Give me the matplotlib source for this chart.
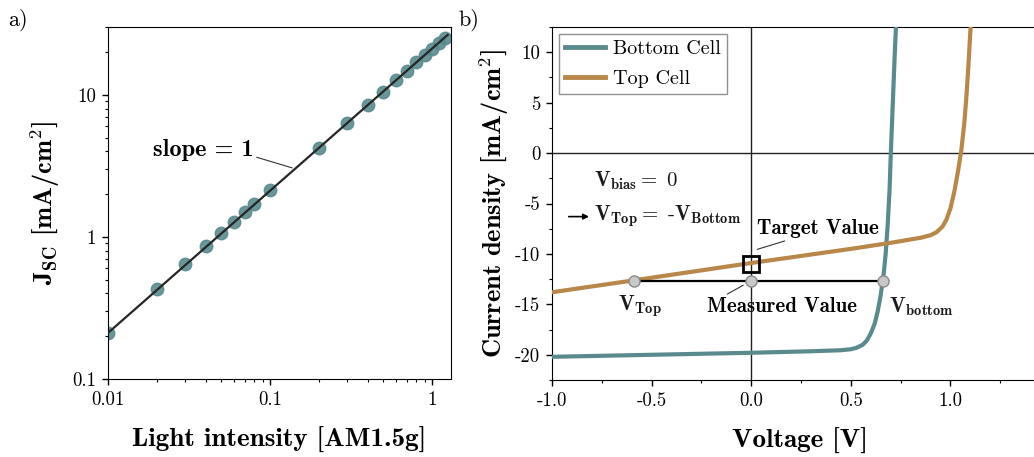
import numpy as np
import matplotlib
matplotlib.use("Agg")
import matplotlib.pyplot as plt
from matplotlib.ticker import FixedLocator, FuncFormatter, MultipleLocator, LogLocator, NullFormatter

plt.rcParams['font.family'] = ['cmr10', 'DejaVu Serif']
plt.rcParams['mathtext.fontset'] = 'cm'
plt.rcParams['axes.unicode_minus'] = False
plt.rcParams['axes.formatter.use_mathtext'] = True

# panel a: short-circuit current vs light intensity
intensity = [0.01, 0.02, 0.03, 0.04, 0.05, 0.06, 0.07, 0.08, 0.1,
             0.2, 0.3, 0.4, 0.5, 0.6, 0.7, 0.8, 0.9, 1.0, 1.1, 1.2]
jsc = [0.21, 0.43, 0.64, 0.86, 1.06, 1.27, 1.49, 1.70, 2.13,
       4.2, 6.3, 8.5, 10.5, 12.7, 14.8, 16.9, 19.0, 21.1, 23.2, 25.3]
fit_x = [0.01, 1.25]
fit_y = [0.211, 26.4]

# panel b: J-V curves of the subcells
v_bottom = [-1.0, -0.5, 0.0, 0.3, 0.45, 0.50, 0.53, 0.56, 0.58, 0.60, 0.62, 0.635,
            0.65, 0.665, 0.675, 0.685, 0.695, 0.70, 0.71, 0.72, 0.73]
j_bottom = [-20.2, -20.0, -19.8, -19.65, -19.55, -19.45, -19.3, -19.0, -18.6, -17.9, -16.9, -15.7,
            -14.1, -12.0, -10.0, -7.2, -3.5, -0.5, 4.5, 9.5, 14.0]
v_top = [-1.0, -0.6, 0.0, 0.5, 0.7, 0.85, 0.90, 0.93, 0.96, 0.98, 1.00, 1.02,
         1.04, 1.055, 1.07, 1.08, 1.09, 1.10, 1.11]
j_top = [-13.8, -12.65, -10.9, -9.5, -8.9, -8.4, -8.15, -7.85, -7.3, -6.6, -5.5, -3.8,
         -1.6, 0.3, 3.0, 5.5, 8.5, 12.0, 15.0]
measured_v = [-0.59, 0.0, 0.66]
measured_j = -12.7
target_v, target_j = 0.0, -10.95

teal = '#5a8a8e'
brown = '#b8874a'

fig = plt.figure(figsize=(10.34, 4.57), dpi=100)
W, H = 1034, 457

def px_axes(l, t, r, b):
    return fig.add_axes([l / W, 1 - b / H, (r - l) / W, (b - t) / H])

# ---- panel a ----
ax1 = px_axes(108, 27, 451, 379)
ax1.plot(intensity, jsc, 'o', ms=9, color=teal, alpha=0.9, mec=teal, zorder=2)
ax1.plot(fit_x, fit_y, '-', color='#262626', lw=1.6, zorder=3)
ax1.set_xscale('log')
ax1.set_yscale('log')
ax1.set_xlim(0.01, 1.31)
ax1.set_ylim(0.1, 30)
ax1.xaxis.set_major_locator(FixedLocator([0.01, 0.1, 1]))
ax1.yaxis.set_major_locator(FixedLocator([0.1, 1, 10]))
ax1.xaxis.set_minor_locator(LogLocator(subs=np.arange(2, 10)))
ax1.yaxis.set_minor_locator(LogLocator(subs=np.arange(2, 10)))
ax1.xaxis.set_minor_formatter(NullFormatter())
ax1.yaxis.set_minor_formatter(NullFormatter())
fmt = FuncFormatter(lambda v, p: '%g' % v)
ax1.xaxis.set_major_formatter(fmt)
ax1.yaxis.set_major_formatter(fmt)
ax1.tick_params(which='major', direction='out', length=4, width=1, labelsize=13.5, pad=4.5)
ax1.tick_params(which='minor', direction='out', length=2.3, width=0.8)
ax1.set_xlabel('Light intensity [AM1.5g]', family='cmb10', fontsize=19.5, labelpad=13)
ax1.set_ylabel(r'$\mathbf{J_{SC}}$ [mA/cm$^\mathbf{2}$]', family='cmb10', fontsize=19, labelpad=7)
ax1.annotate('slope = 1', xy=(0.137, 3.06), xytext=(0.019, 4.1),
             family='cmb10', fontsize=17.5, va='center',
             arrowprops=dict(arrowstyle='-', color='#333333', lw=0.8,
                             shrinkA=0, shrinkB=0, relpos=(1.0, 0.2)))

# ---- panel b ----
ax2 = px_axes(552, 27, 1048, 380)
ax2.axhline(0, color='#222222', lw=1, zorder=1)
ax2.axvline(0, color='#222222', lw=1, zorder=1)
ax2.plot(v_bottom, j_bottom, '-', color=teal, lw=3, label='Bottom Cell', zorder=3)
ax2.plot(v_top, j_top, '-', color=brown, lw=3, label='Top Cell', zorder=3)
ax2.plot([measured_v[0], measured_v[-1]], [measured_j, measured_j], '-', color='black', lw=1.6, zorder=4)
ax2.plot(measured_v, [measured_j] * len(measured_v), 'o', ms=8, mfc='#c8c8c8', mec='#8a8a8a', mew=1, zorder=5)
ax2.plot([target_v], [target_j], 's', ms=11, mfc='none', mec='black', mew=2, zorder=5)
ax2.set_xlim(-1.0, 1.49)
ax2.set_ylim(-22.5, 12.5)
ax2.xaxis.set_major_locator(MultipleLocator(0.5))
ax2.xaxis.set_minor_locator(MultipleLocator(0.25))
ax2.yaxis.set_major_locator(MultipleLocator(5))
ax2.yaxis.set_minor_locator(MultipleLocator(2.5))
ax2.xaxis.set_major_formatter(FuncFormatter(lambda v, p: '%.1f' % v))
ax2.yaxis.set_major_formatter(FuncFormatter(lambda v, p: '%d' % round(v)))
ax2.tick_params(which='major', direction='out', length=4, width=1, labelsize=13.5, pad=4.5)
ax2.tick_params(which='minor', direction='out', length=2.3, width=0.8)
ax2.set_xlabel('Voltage [V]', family='cmb10', fontsize=19.5, labelpad=13)
ax2.set_ylabel(r'Current density [mA/cm$^\mathbf{2}$]', family='cmb10', fontsize=19, labelpad=3)

leg = ax2.legend(loc='upper left', fontsize=14.5, frameon=True, fancybox=False,
                 edgecolor='#777777', handlelength=2.0, handletextpad=0.4,
                 borderpad=0.3, labelspacing=0.6, borderaxespad=0.35)
leg.get_frame().set_linewidth(1)
for ln in leg.get_lines():
    ln.set_linewidth(3.5)

bold = dict(fontsize=15, color='#1a1a1a')
ax2.text(-0.79, -2.7, r'$\mathbf{V}_{\mathbf{bias}}\mathbf{=\ 0}$', va='center', **bold)
ax2.annotate('', xy=(-0.8, -6.3), xytext=(-0.93, -6.3),
             arrowprops=dict(arrowstyle='-|>', color='black', lw=1.2, mutation_scale=8))
ax2.text(-0.79, -6.3, r'$\mathbf{V}_{\mathbf{Top}}\mathbf{=\ \text{-}V}_{\mathbf{Bottom}}$', va='center', **bold)
ax2.text(-0.67, -15.2, r'$\mathbf{V}_{\mathbf{Top}}$', va='center', **bold)
ax2.text(0.69, -15.2, r'$\mathbf{V}_{\mathbf{bottom}}$', va='center', **bold)
ax2.annotate('Target Value', xy=(0.03, -9.55), xytext=(0.03, -7.5),
             family='cmb10', va='center', fontsize=15,
             arrowprops=dict(arrowstyle='-', color='#333333', lw=0.8,
                             shrinkA=0, shrinkB=0, relpos=(0.3, 0.0)))
ax2.annotate('Measured Value', xy=(-0.04, -13.1), xytext=(-0.22, -15.2),
             family='cmb10', va='center', fontsize=15,
             arrowprops=dict(arrowstyle='-', color='#333333', lw=0.8,
                             shrinkA=0, shrinkB=0, relpos=(0.1, 1.0)))

fig.text(8 / W, 1 - 20 / H, 'a)', fontsize=16, va='center')
fig.text(458 / W, 1 - 20 / H, 'b)', fontsize=16, va='center')

fig.savefig('out.png', dpi=100)
